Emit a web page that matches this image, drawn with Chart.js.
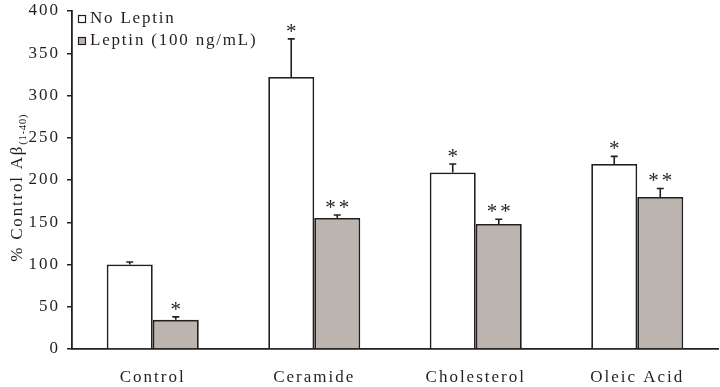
<!DOCTYPE html>
<html lang="en">
<head>
    <meta charset="UTF-8">
    <title>Leptin Abeta chart</title>
    <style>
        html, body { margin: 0; padding: 0; background: #fff; }
        #chart-container { width: 720px; height: 387px; }
    </style>
    <script src="https://cdn.jsdelivr.net/npm/chart.js"></script>
</head>
<body>
    <div id="chart-container">
        <canvas id="abeta-chart"></canvas>
    </div>
    <script>
        // data
        const categories = ['Control', 'Ceramide', 'Cholesterol', 'Oleic Acid'];
        const noLeptin = [100, 322, 209, 219];
        const noLeptinErr = [3, 45, 10, 9];
        const leptin = [34.5, 155, 148, 180];
        const leptinErr = [3.5, 3.5, 5.5, 10];
        const noLeptinMarks = ['', '*', '*', '*'];
        const leptinMarks = ['*', '**', '**', '**'];
        const yTicks = [0, 50, 100, 150, 200, 250, 300, 350, 400];

        const ink = '#231f20';
        const grey = '#bcb4ae';
        const serif = '"Liberation Serif", "DejaVu Serif", serif';

        const errors = [noLeptinErr, leptinErr];
        const marks = [noLeptinMarks, leptinMarks];

        // error bars (upper half only) + significance stars
        const errorBars = {
            id: 'errorBars',
            afterDatasetsDraw(chart) {
                const ctx = chart.ctx;
                const y = chart.scales.y;
                ctx.save();
                ctx.strokeStyle = ink;
                ctx.lineWidth = 1.6;
                ctx.fillStyle = ink;
                ctx.font = '21px ' + serif;
                ctx.textAlign = 'center';
                ctx.textBaseline = 'alphabetic';
                chart.data.datasets.forEach((ds, i) => {
                    chart.getDatasetMeta(i).data.forEach((bar, j) => {
                        const top = y.getPixelForValue(ds.data[j] + errors[i][j]);
                        ctx.beginPath();
                        ctx.moveTo(bar.x, bar.y);
                        ctx.lineTo(bar.x, top);
                        ctx.moveTo(bar.x - 3.5, top);
                        ctx.lineTo(bar.x + 3.5, top);
                        ctx.stroke();
                        const m = marks[i][j];
                        if (m) {
                            ctx.letterSpacing = '3px';
                            ctx.fillText(m, bar.x + 1.5, top - 1);
                        }
                    });
                });
                ctx.restore();
            }
        };

        // legend + rotated y title with subscript
        const decorations = {
            id: 'decorations',
            afterDraw(chart) {
                const ctx = chart.ctx;
                ctx.save();
                ctx.fillStyle = ink;
                ctx.strokeStyle = ink;
                ctx.lineWidth = 1.2;
                ctx.font = '17px ' + serif;
                ctx.letterSpacing = '1.8px';
                ctx.textBaseline = 'middle';
                ctx.textAlign = 'left';
                const items = [['No Leptin', '#ffffff', 19], ['Leptin (100 ng/mL)', grey, 41]];
                items.forEach(([label, fill, cy]) => {
                    ctx.fillStyle = fill;
                    ctx.fillRect(78.5, cy - 3.5, 7, 7);
                    ctx.strokeRect(78.5, cy - 3.5, 7, 7);
                    ctx.fillStyle = ink;
                    ctx.fillText(label, 90, cy);
                });

                // y title
                ctx.translate(21.5, 188);
                ctx.rotate(-Math.PI / 2);
                ctx.textBaseline = 'alphabetic';
                ctx.font = '17px ' + serif;
                ctx.letterSpacing = '1.8px';
                const main = '% Control Aβ';
                const sub = '(1-40)';
                const wMain = ctx.measureText(main).width;
                ctx.font = '11px ' + serif;
                ctx.letterSpacing = '0.5px';
                const wSub = ctx.measureText(sub).width;
                const x0 = -(wMain + wSub) / 2;
                ctx.font = '17px ' + serif;
                ctx.letterSpacing = '1.8px';
                ctx.fillText(main, x0, 0);
                ctx.font = '11px ' + serif;
                ctx.letterSpacing = '0.5px';
                ctx.fillText(sub, x0 + wMain, 4);
                ctx.restore();
            }
        };

        const spacing = {
            id: 'spacing',
            beforeDraw(chart) { chart.ctx.letterSpacing = '2px'; }
        };

        new Chart(document.getElementById('abeta-chart'), {
            type: 'bar',
            data: {
                labels: categories,
                datasets: [{
                    label: 'No Leptin',
                    data: noLeptin,
                    backgroundColor: '#ffffff',
                    borderColor: ink,
                    borderWidth: 1.8,
                    borderSkipped: 'bottom'
                }, {
                    label: 'Leptin (100 ng/mL)',
                    data: leptin,
                    backgroundColor: grey,
                    borderColor: ink,
                    borderWidth: 1.8,
                    borderSkipped: 'bottom'
                }]
            },
            options: {
                responsive: true,
                maintainAspectRatio: false,
                animation: false,
                datasets: { bar: { categoryPercentage: 0.57, barPercentage: 1.0 } },
                layout: { padding: { top: 11, right: 2, left: 0, bottom: 0 } },
                plugins: {
                    legend: { display: false },
                    tooltip: { enabled: false }
                },
                scales: {
                    x: {
                        grid: { display: false },
                        border: { display: true, color: ink, width: 1.8 },
                        ticks: { color: ink, font: { family: serif, size: 17 }, padding: 10 },
                        afterFit(s) { s.height = 38; s.paddingLeft = 0; s.paddingRight = 0; }
                    },
                    y: {
                        min: 0,
                        max: 400,
                        afterBuildTicks(s) { s.ticks = yTicks.map(v => ({ value: v })); },
                        grid: { drawOnChartArea: false, drawTicks: true, tickLength: 5, color: ink, lineWidth: 1.5 },
                        border: { display: true, color: ink, width: 1.8 },
                        ticks: { color: ink, font: { family: serif, size: 17 }, padding: 7 },
                        afterFit(s) { s.width = 72; s.paddingTop = 0; s.paddingBottom = 0; }
                    }
                }
            },
            plugins: [spacing, errorBars, decorations]
        });
    </script>
</body>
</html>
